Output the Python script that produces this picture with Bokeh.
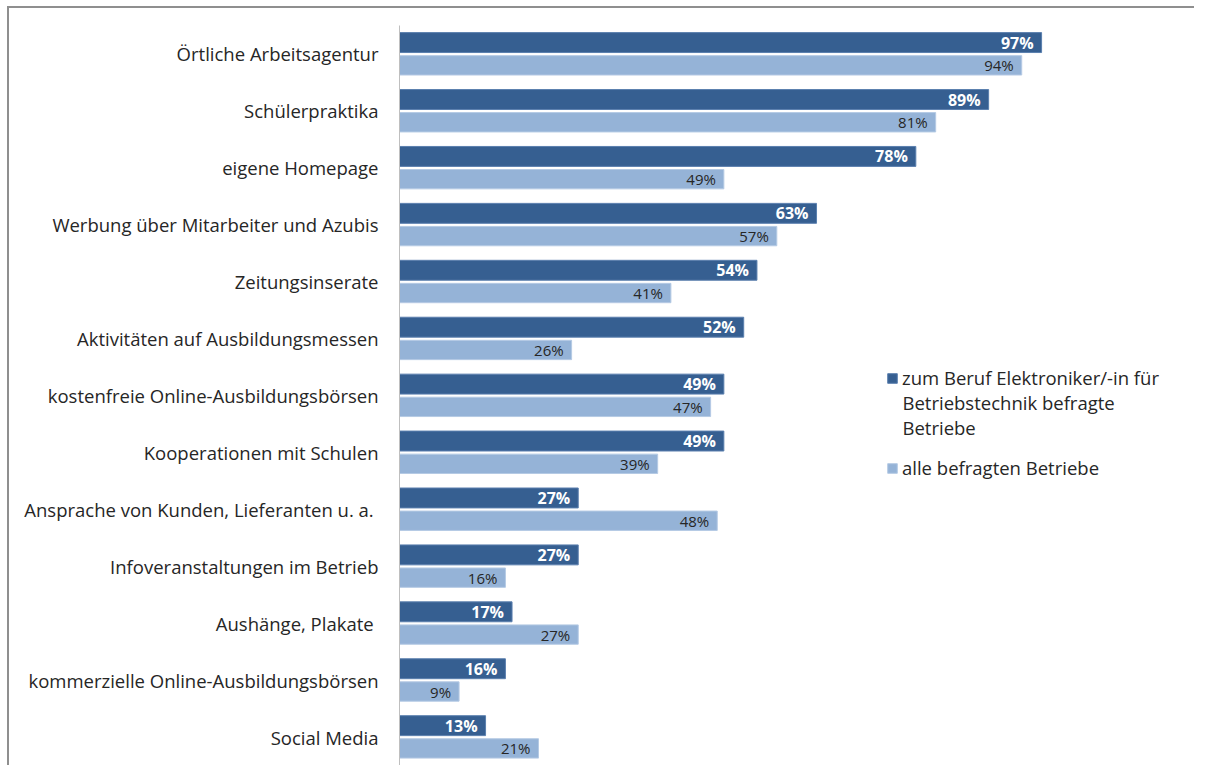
from bokeh.plotting import figure
from bokeh.models import ColumnDataSource, FactorRange, Range1d, Legend, LegendItem, Label
from bokeh.transform import dodge
from bokeh.core.properties import value
from bokeh.embed import file_html
from bokeh.resources import INLINE

categories = [
    "Örtliche Arbeitsagentur",
    "Schülerpraktika",
    "eigene Homepage",
    "Werbung über Mitarbeiter und Azubis",
    "Zeitungsinserate",
    "Aktivitäten auf Ausbildungsmessen",
    "kostenfreie Online-Ausbildungsbörsen",
    "Kooperationen mit Schulen",
    "Ansprache von Kunden, Lieferanten u. a. ",
    "Infoveranstaltungen im Betrieb",
    "Aushänge, Plakate ",
    "kommerzielle Online-Ausbildungsbörsen",
    "Social Media",
]
elektroniker = [97, 89, 78, 63, 54, 52, 49, 49, 27, 27, 17, 16, 13]
alle = [94, 81, 49, 57, 41, 26, 47, 39, 48, 16, 27, 9, 21]
series1_lines = ["zum Beruf Elektroniker/-in für", "Betriebstechnik befragte", "Betriebe"]
series2_name = "alle befragten Betriebe"

DARK = "#365F91"
LIGHT = "#95B3D7"
FONT = "Open Sans"
TXT = "#262626"
FS = "18.5px"

src = ColumnDataSource(dict(
    cat=categories,
    a=elektroniker,
    b=alle,
    a_lbl=[f"{v}%" for v in elektroniker],
    b_lbl=[f"{v}%" for v in alle],
))

p = figure(
    width=1194, height=765,
    y_range=FactorRange(*reversed(categories)),
    x_range=Range1d(0, 120.1),
    output_backend="svg", toolbar_location=None,
    min_border_left=399, min_border_right=0, min_border_top=25, min_border_bottom=0,
)
p.border_fill_alpha = 0
p.styles = {
    "background": "linear-gradient(#8f8f8f, #8f8f8f) 7px 6px / 100% 2px no-repeat, "
                  "linear-gradient(#8f8f8f, #8f8f8f) 7px 6px / 2px 100% no-repeat, white",
}
p.y_range.range_padding = 0
p.outline_line_color = None
p.xgrid.visible = False
p.ygrid.visible = False
p.xaxis.visible = False

r1 = p.hbar(y=dodge("cat", 0.2, range=p.y_range), right="a", left=0, height=0.35,
            source=src, fill_color=DARK, line_color="#5A7FAE", line_width=1)
r2 = p.hbar(y=dodge("cat", -0.2, range=p.y_range), right="b", left=0, height=0.34,
            source=src, fill_color=LIGHT, line_color="#B5CAE4", line_width=1)

p.text(x="a", y=dodge("cat", 0.2, range=p.y_range), text="a_lbl", source=src,
       x_offset=-8, text_align="right", text_baseline="middle",
       text_font=value(FONT), text_font_size="16px", text_font_style="bold",
       text_color="white")
p.text(x="b", y=dodge("cat", -0.2, range=p.y_range), text="b_lbl", source=src,
       x_offset=-8, text_align="right", text_baseline="middle",
       text_font=value(FONT), text_font_size="15px",
       text_color=TXT)

yax = p.yaxis[0]
yax.axis_line_color = "#BFBFBF"
yax.axis_line_width = 1
yax.major_tick_line_color = None
yax.minor_tick_line_color = None
yax.major_label_standoff = 15
yax.major_label_text_font = FONT
yax.major_label_text_font_size = FS
yax.major_label_text_color = TXT

common = dict(glyph_width=12, glyph_height=12, label_standoff=4, padding=0, margin=0,
              border_line_color=None, background_fill_alpha=0,
              label_text_font=FONT, label_text_font_size=FS,
              label_text_color=TXT)
leg1 = Legend(items=[LegendItem(label=series1_lines[0], renderers=[r1])],
              location=(487, 375), **common)
leg2 = Legend(items=[LegendItem(label=series2_name, renderers=[r2])],
              location=(487, 285), **common)
p.add_layout(leg1)
p.add_layout(leg2)
for i, line in enumerate(series1_lines[1:]):
    p.add_layout(Label(x=503, y=363 - 25 * i, x_units="screen", y_units="screen",
                       text=line, text_font=FONT, text_font_size=FS,
                       text_color=TXT, text_baseline="middle"))

open("out.html", "w").write(file_html(p, INLINE))
